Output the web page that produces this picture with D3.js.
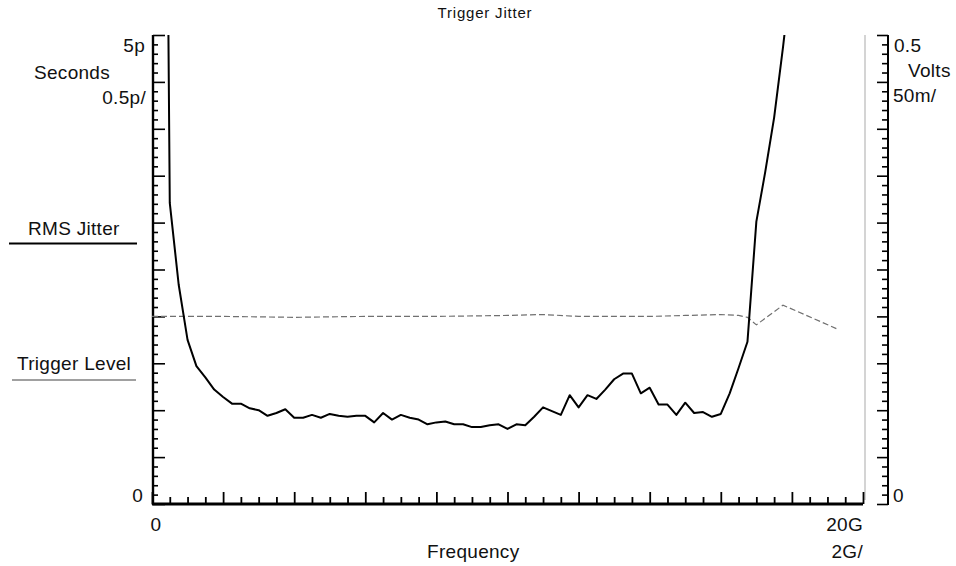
<!DOCTYPE html>
<html>
<head>
<meta charset="utf-8">
<script src="https://cdn.jsdelivr.net/npm/d3@7"></script>
<style>
  html, body { margin: 0; padding: 0; background: #fff; }
  svg { display: block; }
  text { font-family: Arial, "Liberation Sans", Helvetica, sans-serif; fill: #111; }
</style>
</head>
<body>
<svg id="chart" width="956" height="566"></svg>
<script>
// Frequency sweep points (GHz)
const freqGHz = [
  0.25, 0.5, 0.75, 1.0, 1.25, 1.5, 1.75, 2.0, 2.25, 2.5, 2.75,
  3.0, 3.25, 3.5, 3.75, 4.0, 4.25, 4.5, 4.75, 5.0, 5.25,
  5.5, 5.75, 6.0, 6.25, 6.5, 6.75, 7.0, 7.25, 7.5, 7.75,
  8.0, 8.25, 8.5, 8.75, 9.0, 9.25, 9.5, 9.75, 10.0, 10.25,
  10.5, 10.75, 11.0, 11.25, 11.5, 11.75, 12.0, 12.25, 12.5, 12.75,
  13.0, 13.25, 13.5, 13.75, 14.0, 14.25, 14.5, 14.75, 15.0, 15.25,
  15.5, 15.75, 16.0, 16.25, 16.5, 16.75, 17.0, 17.25, 17.5, 17.75,
  18.0
];
// RMS jitter at each frequency (ps)
const rmsJitterPs = [
  15.0,
  3.21, 2.34, 1.75, 1.47, 1.35, 1.22, 1.14, 1.07, 1.07, 1.02,
  1.00, 0.94, 0.97, 1.01, 0.92, 0.92, 0.95, 0.92, 0.96, 0.94,
  0.93, 0.94, 0.94, 0.87, 0.97, 0.90, 0.95, 0.92, 0.90, 0.85,
  0.87, 0.88, 0.85, 0.85, 0.82, 0.82, 0.84, 0.85, 0.80, 0.85,
  0.84, 0.93, 1.03, 0.99, 0.95, 1.16, 1.03, 1.16, 1.12, 1.22,
  1.33, 1.39, 1.39, 1.18, 1.24, 1.06, 1.06, 0.95, 1.08, 0.97,
  0.98, 0.93, 0.96, 1.18, 1.45, 1.73, 3.01, 3.54, 4.12, 4.87,
  5.70
];
// Trigger level (V)
const trigFreqGHz = [0, 2, 4, 6, 8, 10, 11, 12, 14, 15, 16, 16.5, 16.75, 17, 17.75, 19.25];
const trigLevelV  = [0.200, 0.200, 0.199, 0.200, 0.200, 0.201, 0.202, 0.200, 0.200, 0.201, 0.202, 0.201, 0.199, 0.191, 0.212, 0.187];

// Axis tick values
const xMajorTicks = [0, 2, 4, 6, 8, 10, 12, 14, 16, 18, 20];
const xMinorTicks = d3.range(0, 41).map(i => i * 0.5).filter(v => v % 2 !== 0);
const yLeftMajor  = [0, 0.5, 1, 1.5, 2, 2.5, 3, 3.5, 4, 4.5, 5];
const yLeftMinor  = d3.range(0, 51).map(i => i / 10).filter((v, i) => i % 5 !== 0);
const yRightMajor = [0, 0.05, 0.1, 0.15, 0.2, 0.25, 0.3, 0.35, 0.4, 0.45, 0.5];
const yRightMinor = d3.range(0, 51).map(i => i / 100).filter((v, i) => i % 5 !== 0);

const svg = d3.select("#chart");

const x  = d3.scaleLinear().domain([0, 20]).range([152, 863]);
const yL = d3.scaleLinear().domain([0, 5]).range([504, 35]);
const yR = d3.scaleLinear().domain([0, 0.5]).range([504, 35]);

const leftX = 153, rightX = 888, baseY = 504;

// clip for traces
svg.append("defs").append("clipPath").attr("id", "plotClip")
  .append("rect").attr("x", 152).attr("y", 35).attr("width", 713).attr("height", 470);

// right plot border (light)
svg.append("line")
  .attr("x1", 865).attr("x2", 865).attr("y1", yL(5)).attr("y2", 500)
  .attr("stroke", "#b8b8b8").attr("stroke-width", 1.2);

function styleAxis(g, width) {
  g.select(".domain").remove();
  g.selectAll(".tick line").attr("stroke", "#000").attr("stroke-width", width);
  g.selectAll(".tick text").remove();
}

// left axis
svg.append("g").attr("transform", `translate(${leftX},0)`)
  .call(d3.axisRight(yL).tickValues(yLeftMinor).tickSize(5).tickFormat(""))
  .call(g => styleAxis(g, 1.6));
svg.append("g").attr("transform", `translate(${leftX},0)`)
  .call(d3.axisRight(yL).tickValues(yLeftMajor).tickSize(12).tickFormat(""))
  .call(g => styleAxis(g, 1.6));
svg.append("line").attr("x1", leftX).attr("x2", leftX).attr("y1", yL(5)).attr("y2", baseY + 1)
  .attr("stroke", "#000").attr("stroke-width", 2.4);

// right axis
svg.append("g").attr("transform", `translate(${rightX},0)`)
  .call(d3.axisLeft(yR).tickValues(yRightMinor).tickSize(6).tickFormat(""))
  .call(g => styleAxis(g, 1.6));
svg.append("g").attr("transform", `translate(${rightX},0)`)
  .call(d3.axisLeft(yR).tickValues(yRightMajor).tickSize(11).tickFormat(""))
  .call(g => styleAxis(g, 1.6));
svg.append("line").attr("x1", rightX).attr("x2", rightX).attr("y1", yR(0.5)).attr("y2", baseY + 1)
  .attr("stroke", "#000").attr("stroke-width", 2);

// bottom axis
svg.append("g").attr("transform", `translate(0,${baseY})`)
  .call(d3.axisTop(x).tickValues(xMinorTicks).tickSize(7).tickFormat(""))
  .call(g => styleAxis(g, 1.8));
svg.append("g").attr("transform", `translate(0,${baseY})`)
  .call(d3.axisTop(x).tickValues(xMajorTicks).tickSize(12).tickFormat(""))
  .call(g => styleAxis(g, 1.8));
svg.append("line").attr("x1", x(0)).attr("x2", x(20)).attr("y1", baseY).attr("y2", baseY)
  .attr("stroke", "#000").attr("stroke-width", 3);

// trigger level trace (dashed)
const trigPts = trigFreqGHz.map((f, i) => [f, trigLevelV[i]]);
svg.append("path")
  .datum(trigPts)
  .attr("clip-path", "url(#plotClip)")
  .attr("fill", "none")
  .attr("stroke", "#707070")
  .attr("stroke-width", 1.2)
  .attr("stroke-dasharray", "6,3")
  .attr("d", d3.line().x(d => x(d[0])).y(d => yR(d[1])));

// RMS jitter trace
const jitPts = freqGHz.map((f, i) => [f, rmsJitterPs[i]]);
svg.append("path")
  .datum(jitPts)
  .attr("clip-path", "url(#plotClip)")
  .attr("fill", "none")
  .attr("stroke", "#000")
  .attr("stroke-width", 2)
  .attr("stroke-linejoin", "round")
  .attr("d", d3.line().x(d => x(d[0])).y(d => yL(d[1])));

// text labels
function label(txt, px, py, anchor, size, spacing) {
  svg.append("text")
    .attr("x", px).attr("y", py)
    .attr("text-anchor", anchor)
    .attr("font-size", size || 19)
    .attr("letter-spacing", spacing == null ? 0.3 : spacing)
    .text(txt);
}

label("Trigger Jitter", 485, 18, "middle", 15, 0.8);

label("5p", 145, yL(5) + 17, "end");
label("Seconds", 34, 79, "start");
label("0.5p/", 146, 104, "end");
label("0", 143, yL(0) - 2, "end");

label("RMS Jitter", 28, 235, "start");
svg.append("line").attr("x1", 9).attr("x2", 137).attr("y1", 243.5).attr("y2", 243.5)
  .attr("stroke", "#000").attr("stroke-width", 2);
label("Trigger Level", 17, 370, "start");
svg.append("line").attr("x1", 12).attr("x2", 136).attr("y1", 380).attr("y2", 380)
  .attr("stroke", "#808080").attr("stroke-width", 1.4);

label("0.5", 894, yR(0.5) + 17, "start");
label("Volts", 908, 77, "start");
label("50m/", 893, 102, "start");
label("0", 893, yR(0) - 2, "start");

label("0", x(0) + 4, 531, "middle");
label("20G", x(20), 531, "end");
label("Frequency", 427, 558, "start");
label("2G/", x(20), 558, "end");
</script>
</body>
</html>
